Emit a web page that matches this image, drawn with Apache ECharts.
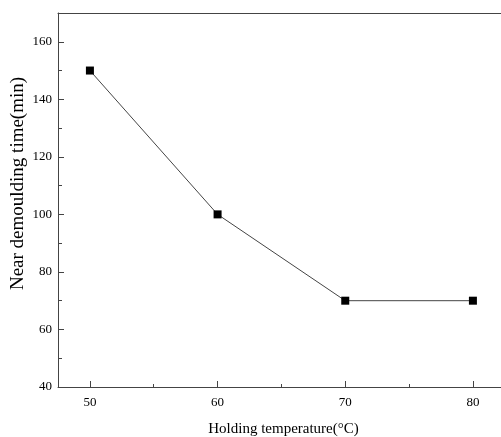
<!DOCTYPE html>
<html>
<head>
<meta charset="utf-8">
<script src="https://cdn.jsdelivr.net/npm/echarts@6/dist/echarts.min.js"></script>
<style>
  html, body { margin: 0; padding: 0; background: #fff; }
  #chart { width: 501px; height: 437px; }
</style>
</head>
<body>
<div id="chart"></div>
<script>
// holding temperature (°C) vs near demoulding time (min)
var temps = [50, 60, 70, 80];
var times = [150, 100, 70, 70];
var xTitle = 'Holding temperature(\u00B0C)';
var yTitle = 'Near demoulding time(min)';

var myChart = echarts.init(document.getElementById('chart'));

var font = 'Liberation Serif';
var axisColor = '#444';

var option = {
    animation: false,
    grid: {
        left: 58,
        right: 0,
        top: 13,
        bottom: 50,
        outerBoundsMode: 'none'
    },
    xAxis: [
        {
            type: 'value',
            min: 47.5,
            max: 82.2,
            splitNumber: 4,
            name: xTitle,
            nameLocation: 'middle',
            nameGap: 35,
            nameTextStyle: { fontFamily: font, fontSize: 15, color: '#000', padding: [0, 0, 0, 8] },
            axisLine: { lineStyle: { color: axisColor, width: 1 } },
            axisTick: { inside: true, length: 6, lineStyle: { color: axisColor } },
            minorTick: { show: true, splitNumber: 2, length: 3, lineStyle: { color: axisColor } },
            splitLine: { show: false },
            axisLabel: {
                showMinLabel: false,
                showMaxLabel: false,
                margin: 9,
                fontFamily: font,
                fontSize: 13,
                color: '#000'
            }
        },
        {
            // top frame line
            type: 'value',
            position: 'top',
            min: 47.5,
            max: 82.2,
            axisLine: { show: true, lineStyle: { color: axisColor, width: 1 } },
            axisTick: { show: false },
            axisLabel: { show: false },
            splitLine: { show: false }
        }
    ],
    yAxis: {
        type: 'value',
        min: 40,
        max: 170,
        interval: 20,
        name: yTitle,
        nameLocation: 'middle',
        nameGap: 30,
        nameMoveOverlap: false,
        nameTextStyle: { fontFamily: font, fontSize: 19, color: '#000', padding: [0, 0, 0, 33] },
        axisLine: { show: true, lineStyle: { color: axisColor, width: 1 } },
        axisTick: { inside: true, length: 6, lineStyle: { color: axisColor } },
        minorTick: { show: true, splitNumber: 2, length: 4, lineStyle: { color: axisColor } },
        splitLine: { show: false },
        axisLabel: {
            showMaxLabel: false,
            margin: 6,
            fontFamily: font,
            fontSize: 13,
            color: '#000'
        }
    },
    series: [
        {
            type: 'line',
            data: temps.map(function (t, i) { return [t, times[i]]; }),
            symbol: 'rect',
            symbolSize: 8,
            itemStyle: { color: '#000' },
            lineStyle: { color: '#444', width: 1 }
        }
    ]
};

myChart.setOption(option);
</script>
</body>
</html>
